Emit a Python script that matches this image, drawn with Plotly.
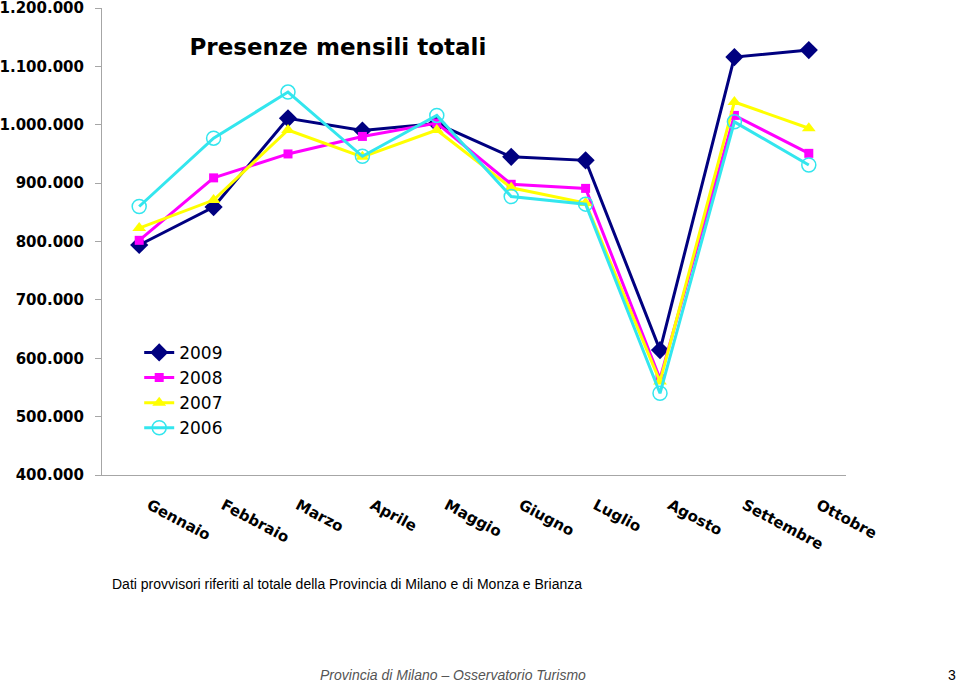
import plotly.graph_objects as go

months = ['Gennaio', 'Febbraio', 'Marzo', 'Aprile', 'Maggio', 'Giugno',
          'Luglio', 'Agosto', 'Settembre', 'Ottobre']

pres_2009 = [794000, 859000, 1011000, 990000, 1002000, 945000, 939000, 614000, 1116000, 1128000]
pres_2008 = [802000, 909000, 950000, 980000, 1003000, 898000, 891000, 565000, 1016000, 951000]
pres_2007 = [823000, 871000, 991000, 945000, 991000, 892000, 866000, 560000, 1039000, 994000]
pres_2006 = [860000, 977000, 1056000, 946000, 1016000, 877000, 864000, 540000, 1005000, 931000]

series = [
    ('2009', pres_2009, '#000080', dict(symbol='diamond', size=14, color='#000080')),
    ('2008', pres_2008, '#ff00ff', dict(symbol='square', size=9, color='#ff00ff')),
    ('2007', pres_2007, '#ffff00', dict(symbol='triangle-up', size=12, color='#ffff00')),
    ('2006', pres_2006, '#33e6ee', dict(symbol='circle-open', size=14, color='#33e6ee',
                                         line=dict(width=1.5))),
]

fig = go.Figure()
for name, vals, color, marker in series:
    fig.add_trace(go.Scatter(x=months, y=vals, name=name, mode='lines+markers',
                             line=dict(color=color, width=3), marker=marker))

bold = dict(family='DejaVu Sans', size=15, color='black', weight='bold')

fig.update_layout(
    width=960, height=682,
    margin=dict(l=102, r=114, t=8, b=207, autoexpand=False),
    plot_bgcolor='white', paper_bgcolor='white',
    separators=',.',
    showlegend=True,
    legend=dict(x=0.05, y=0.30, xanchor='left', yanchor='top',
                font=dict(family='DejaVu Sans', size=17, color='black'),
                tracegroupgap=0, itemwidth=30, bgcolor='rgba(0,0,0,0)'),
    title=dict(text='<b>Presenze mensili totali</b>', xref='container', x=0.352,
               xanchor='center', yref='container', y=0.931, yanchor='middle',
               font=dict(family='DejaVu Sans', size=23, color='black')),
)

fig.update_yaxes(range=[400000, 1200000], dtick=100000, tickformat=',.0f',
                 showgrid=False, zeroline=False, showline=True, linecolor='#a6a6a6',
                 linewidth=1, ticks='outside', ticklen=6, tickcolor='#a6a6a6',
                 ticklabelstandoff=8, tickfont=bold, automargin=False,
                 ticklabeloverflow='allow')
fig.update_xaxes(range=[-0.5, 9.5], showgrid=False, zeroline=False, showline=True,
                 linecolor='#a6a6a6', linewidth=1, ticks='', tickangle=28,
                 ticklabelstandoff=15, ticklabelshift=10, tickfont=bold,
                 automargin=False)

fig.add_annotation(text='Dati provvisori riferiti al totale della Provincia di Milano e di Monza e Brianza',
                   xref='paper', yref='paper', x=0.0108, y=-0.2334, xanchor='left',
                   yanchor='middle', showarrow=False,
                   font=dict(family='Liberation Sans', size=14, color='black'))
fig.add_annotation(text='<i>Provincia di Milano \u2013 Osservatorio Turismo</i>',
                   xref='paper', yref='paper', x=0.290, y=-0.428, xanchor='left',
                   yanchor='middle', showarrow=False,
                   font=dict(family='Liberation Sans', size=14, color='#555555'))
fig.add_annotation(text='3', xref='paper', yref='paper', x=1.1505, y=-0.428,
                   xanchor='right', yanchor='middle', showarrow=False,
                   font=dict(family='Liberation Sans', size=14, color='black'))

# drop the default 8px page margin so the figure fills the window
fig.write_html('out.html', config={'displayModeBar': False},
               post_script="document.body.style.margin='0px';")
